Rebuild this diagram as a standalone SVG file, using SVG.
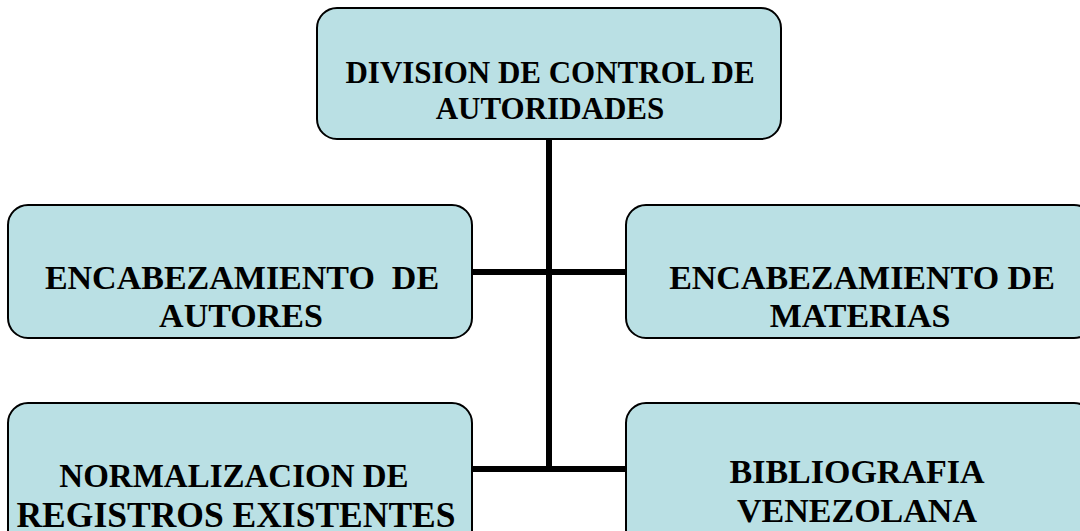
<svg xmlns="http://www.w3.org/2000/svg" width="1080" height="531" viewBox="0 0 1080 531">
<style>
.box{fill:#BAE0E4;stroke:#000;stroke-width:2}
.t{font-family:"Liberation Serif","Times New Roman",serif;font-weight:bold;fill:#000;text-anchor:middle}
.c{stroke:#000;stroke-width:6;fill:none}
</style>
<rect width="1080" height="531" fill="#fff"/>
<g id="connectors">
<line class="c" x1="549" y1="139" x2="549" y2="472"/>
<line class="c" x1="471" y1="272" x2="627" y2="272"/>
<line class="c" x1="471" y1="469" x2="627" y2="469"/>
</g>
<g id="n-top">
<rect class="box" x="317" y="8" width="464" height="131" rx="20"/>
<text class="t" x="550" y="83" font-size="31">DIVISION DE CONTROL DE</text>
<text class="t" x="550" y="119" font-size="31">AUTORIDADES</text>
</g>
<g id="n-autores">
<rect class="box" x="8" y="205" width="464" height="133" rx="20"/>
<text class="t" x="242" y="289" font-size="34" xml:space="preserve">ENCABEZAMIENTO  DE</text>
<text class="t" x="241" y="327" font-size="34">AUTORES</text>
</g>
<g id="n-materias">
<rect class="box" x="626" y="205" width="468" height="133" rx="20"/>
<text class="t" x="862" y="289" font-size="34">ENCABEZAMIENTO DE</text>
<text class="t" x="860" y="327" font-size="34">MATERIAS</text>
</g>
<g id="n-normalizacion">
<rect class="box" x="8" y="403" width="464" height="150" rx="20"/>
<text class="t" x="234" y="487" font-size="33">NORMALIZACION DE</text>
<text class="t" x="236" y="527" font-size="35.5">REGISTROS EXISTENTES</text>
</g>
<g id="n-bibliografia">
<rect class="box" x="626" y="403" width="468" height="150" rx="20"/>
<text class="t" x="857" y="483" font-size="34">BIBLIOGRAFIA</text>
<text class="t" x="857" y="522" font-size="34">VENEZOLANA</text>
</g>
</svg>
